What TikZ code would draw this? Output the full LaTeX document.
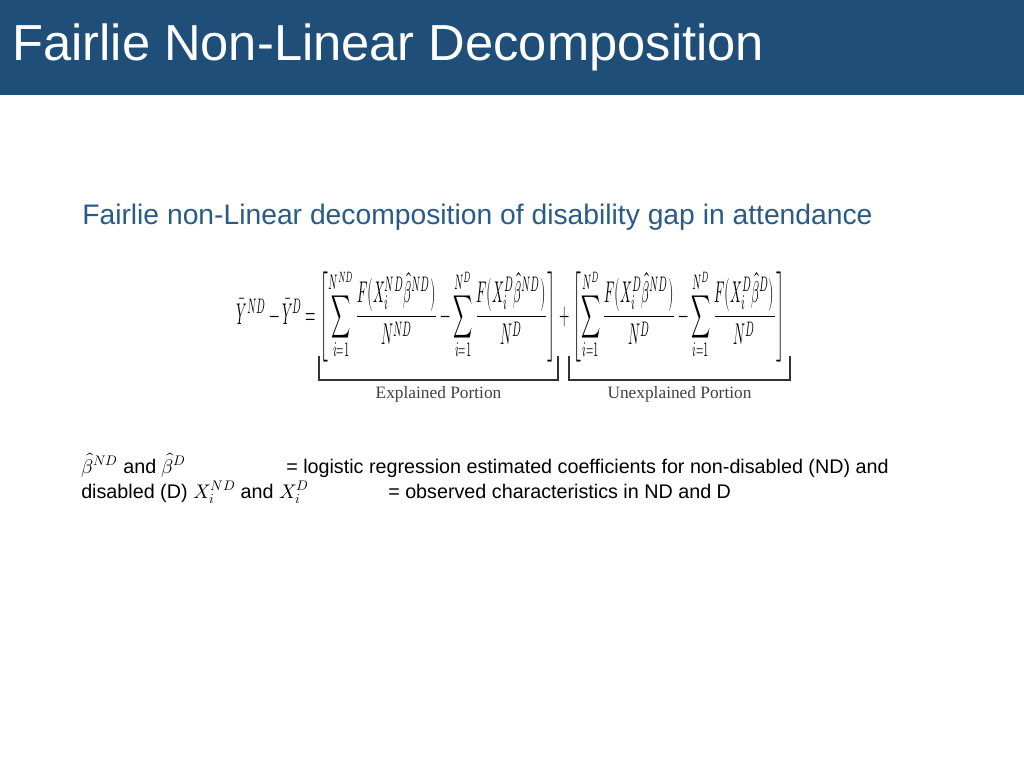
\documentclass[tikz,border=0pt]{standalone}
\usepackage{amsmath}
\usepackage{fontspec}
\setmainfont{Liberation Sans}
\newfontfamily\serifm{Liberation Serif}
\usepackage{unicode-math}
\setmathfont{Latin Modern Math}
\definecolor{hdr}{HTML}{1F4E79}
\definecolor{sub}{HTML}{2A5A86}
\begin{document}
\begin{tikzpicture}[x=0.75pt,y=-0.75pt,
  brk/.style={draw=black!80,line width=0.9pt},
  note/.style={anchor=base west,font=\fontsize{14.8}{17}\selectfont,inner sep=0}]
\useasboundingbox (0,0) rectangle (1024,768);
\fill[hdr] (0,0) rectangle (1024,95);
\node[anchor=west,text=white,font=\fontsize{38}{44}\selectfont,inner sep=0] (title) at (12,47) {Fairlie Non-Linear Decomposition};
\node[anchor=west,text=sub,font=\fontsize{21.2}{25}\selectfont,inner sep=0] (subt) at (82,217) {Fairlie non-Linear decomposition of disability gap in attendance};
\node[inner sep=0] (eq) at (511,315) {\resizebox{411pt}{42pt}{$\displaystyle \bar{Y}^{ND}-\bar{Y}^{D}=\left[\sum_{i=1}^{N^{ND}}\frac{F\big(X_i^{ND}\hat\beta^{ND}\big)}{N^{ND}}-\sum_{i=1}^{N^{D}}\frac{F\big(X_i^{D}\hat\beta^{ND}\big)}{N^{D}}\right]+\left[\sum_{i=1}^{N^{D}}\frac{F\big(X_i^{D}\hat\beta^{ND}\big)}{N^{D}}-\sum_{i=1}^{N^{D}}\frac{F\big(X_i^{D}\hat\beta^{D}\big)}{N^{D}}\right]$}};
\coordinate (a1) at (319,356); \coordinate (a2) at (558,356);
\coordinate (b1) at (569,356); \coordinate (b2) at (790,356);
\draw[brk] (a1) -- ++(0,24) -| (a2);
\draw[brk] (b1) -- ++(0,24) -| (b2);
\node[font=\serifm\fontsize{13}{15}\selectfont,text=black!75] (ex) at (438.5,394) {Explained Portion};
\node[font=\serifm\fontsize{13}{15}\selectfont,text=black!75] (un) at (679.5,394) {Unexplained Portion};
\node[note] (n1) at (81,473) {$\hat\beta^{ND}$ and $\hat\beta^{D}$};
\node[note] (n2) at (286,473) {= logistic regression estimated coefficients for non-disabled (ND) and};
\node[note] (n3) at (81,498) {disabled (D) $X_i^{ND}$ and $X_i^{D}$};
\node[note] (n4) at (388,498) {= observed characteristics in ND and D};
\end{tikzpicture}
\end{document}
